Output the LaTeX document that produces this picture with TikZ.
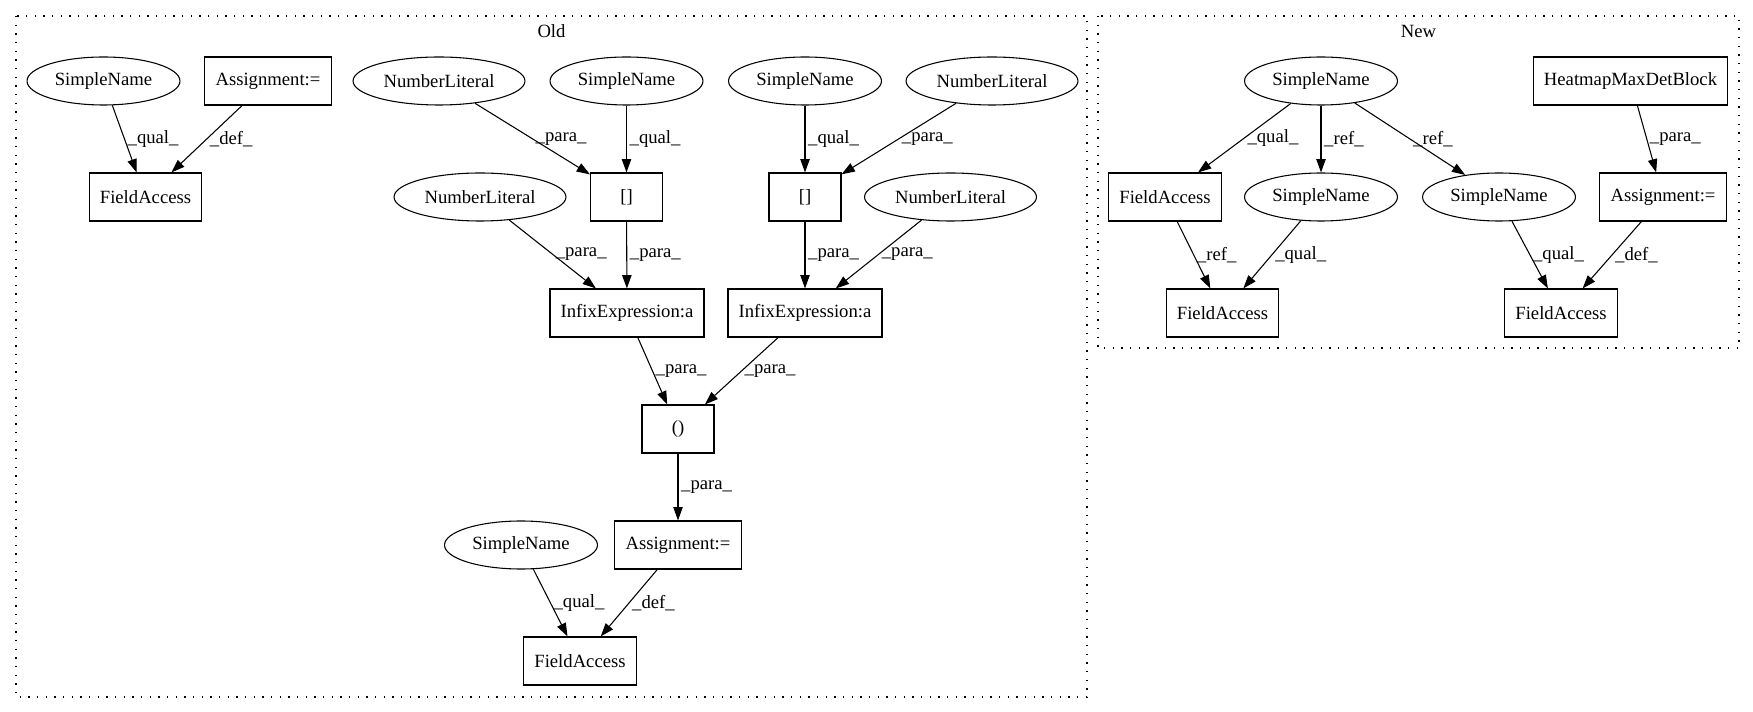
\documentclass[tikz,border=0pt]{standalone}
\usepackage{fontspec}
\setmainfont{Liberation Serif}
\usetikzlibrary{positioning, shapes.geometric, arrows.meta}

\begin{document}
\begin{tikzpicture}[
    x=0.75pt, y=-0.75pt,
    every node/.style={font=\fontsize{14}{16}\selectfont},
    box/.style={rectangle, draw, line width=0.8pt, minimum height=36pt, minimum width=54pt, inner xsep=8pt},
    oval/.style={ellipse, draw, line width=0.8pt, minimum height=36pt, inner xsep=4pt},
    arrow/.style={-{Triangle[length=10pt, width=7pt]}, line width=0.8pt},
    elabel/.style={anchor=west, inner sep=2pt},
    cluster/.style={line width=0.9pt, dash pattern=on 1pt off 5.5pt}
]
\useasboundingbox (0,0) rectangle (1753,712);

% Clusters
\draw [cluster] (16,16) rectangle (1087,697);
\draw [cluster] (1098,16) rectangle (1739,348);
\node (oldlabel) at (551.5,31) {Old};
\node (newlabel) at (1418.5,31) {New};

% Nodes (Old)
\node (sn1) [oval] at (103.5,81) {SimpleName};
\node (asg1) [box] at (268,81) {Assignment:=};
\node (fa1) [box] at (145.5,197) {FieldAccess};
\node (nl1) [oval] at (439,81) {NumberLiteral};
\node (sn2) [oval] at (626.5,81) {SimpleName};
\node (br1) [box] at (626.5,197) {[]};
\node (nl2) [oval] at (480,197) {NumberLiteral};
\node (inf1) [box] at (627,313) {InfixExpression:a};
\node (sn3) [oval] at (805,81) {SimpleName};
\node (nl3) [oval] at (992,81) {NumberLiteral};
\node (br2) [box] at (805,197) {[]};
\node (nl4) [oval] at (950.5,197) {NumberLiteral};
\node (inf2) [box] at (805,313) {InfixExpression:a};
\node (par) [box] at (678,429) {()};
\node (asg2) [box] at (678,545) {Assignment:=};
\node (sn4) [oval] at (521,545) {SimpleName};
\node (fa2) [box] at (580,661) {FieldAccess};

% Nodes (New)
\node (sn5) [oval] at (1321,81) {SimpleName};
\node (heat) [box] at (1630.5,81) {HeatmapMaxDetBlock};
\node (fa3) [box] at (1165,197) {FieldAccess};
\node (sn6) [oval] at (1321,197) {SimpleName};
\node (sn7) [oval] at (1499,197) {SimpleName};
\node (asg3) [box] at (1663,197) {Assignment:=};
\node (fa4) [box] at (1222.5,313) {FieldAccess};
\node (fa5) [box] at (1561,313) {FieldAccess};

% Arrows (Old)
\draw [arrow] (sn1) -- node[elabel] {\_qual\_} (fa1);
\draw [arrow] (asg1) -- node[elabel] {\_def\_} (fa1);
\draw [arrow] (nl1) -- node[elabel] {\_para\_} (br1);
\draw [arrow] (sn2) -- node[elabel] {\_qual\_} (br1);
\draw [arrow] (sn3) -- node[elabel] {\_qual\_} (br2);
\draw [arrow] (nl3) -- node[elabel] {\_para\_} (br2);
\draw [arrow] (nl2) -- node[elabel] {\_para\_} (inf1);
\draw [arrow] (br1) -- node[elabel] {\_para\_} (inf1);
\draw [arrow] (br2) -- node[elabel] {\_para\_} (inf2);
\draw [arrow] (nl4) -- node[elabel] {\_para\_} (inf2);
\draw [arrow] (inf1) -- node[elabel] {\_para\_} (par);
\draw [arrow] (inf2) -- node[elabel] {\_para\_} (par);
\draw [arrow] (par) -- node[elabel] {\_para\_} (asg2);
\draw [arrow] (sn4) -- node[elabel] {\_qual\_} (fa2);
\draw [arrow] (asg2) -- node[elabel] {\_def\_} (fa2);

% Arrows (New)
\draw [arrow] (sn5) -- node[elabel] {\_qual\_} (fa3);
\draw [arrow] (sn5) -- node[elabel] {\_ref\_} (sn6);
\draw [arrow] (sn5) -- node[elabel] {\_ref\_} (sn7);
\draw [arrow] (heat) -- node[elabel] {\_para\_} (asg3);
\draw [arrow] (fa3) -- node[elabel] {\_ref\_} (fa4);
\draw [arrow] (sn6) -- node[elabel] {\_qual\_} (fa4);
\draw [arrow] (sn7) -- node[elabel] {\_qual\_} (fa5);
\draw [arrow] (asg3) -- node[elabel] {\_def\_} (fa5);

\end{tikzpicture}
\end{document}
